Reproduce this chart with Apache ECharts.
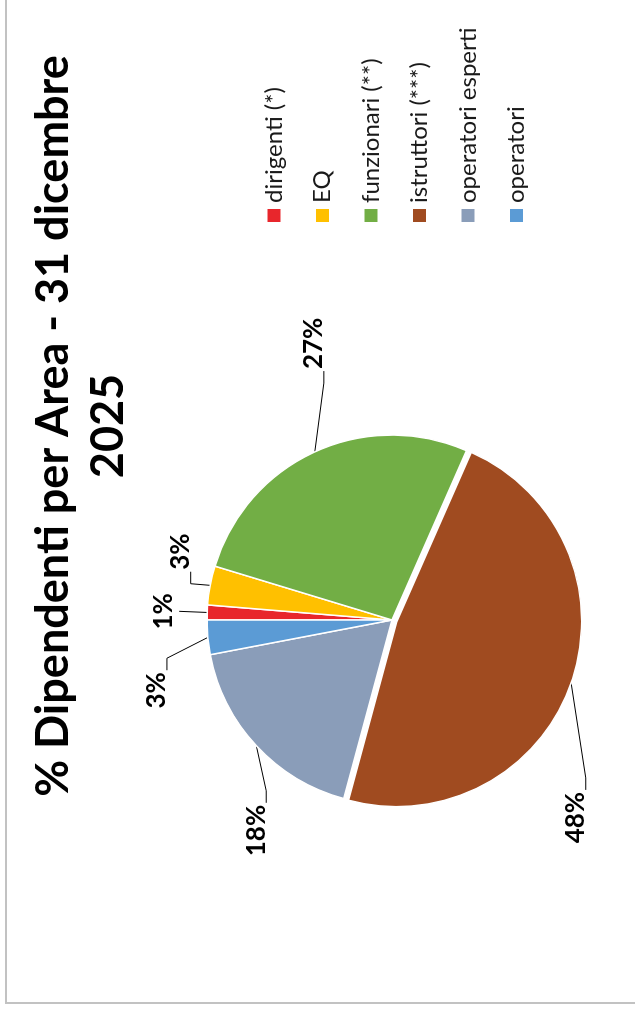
<!DOCTYPE html>
<html>
<head>
<meta charset="utf-8">
<script src="https://cdn.jsdelivr.net/npm/echarts@6/dist/echarts.min.js"></script>
<style>
  html, body { margin: 0; padding: 0; background: #fff; overflow: hidden; width: 635px; height: 1013px; }
  /* the chart is laid out landscape and turned a quarter left, as in the photo */
  #chart { position: absolute; left: 0; top: 1013px; width: 1174px; height: 650px;
           transform-origin: 0 0; transform: rotate(-90deg); }
</style>
</head>
<body>
<div id="chart"></div>
<script>
// categories and shares (%)
var aree = ['dirigenti (*)', 'EQ', 'funzionari (**)', 'istruttori (***)', 'operatori esperti', 'operatori'];
var quote = [1.3, 3.4, 26.9, 47.6, 17.8, 3.0];
var colori = ['#E8262C', '#FFC000', '#72AE45', '#A04B20', '#8A9DB9', '#5B9BD5'];

// leader line lengths per slice [first, second]
var leader = [[28, 0], [30, 5], [2, 76], [5, 102], [0, 54], [51, 25]];

var font = 'Lato, "Open Sans", sans-serif';

var dati = aree.map(function (nome, i) {
  return {
    name: nome,
    value: quote[i],
    selected: i === 3,
    itemStyle: { color: colori[i] },
    labelLine: { length: leader[i][0], length2: leader[i][1] }
  };
});

var chart = echarts.init(document.getElementById('chart'));

chart.setOption({
  animation: false,
  title: {
    text: '% Dipendenti per Area - 31 dicembre\n2025',
    left: 'center',
    top: 21,
    textStyle: { fontFamily: font, fontSize: 45, fontWeight: 'bold', color: '#000', lineHeight: 55 }
  },
  graphic: [{
    type: 'rect', z: -1, silent: true,
    shape: { x: 10, y: 6, width: 1300, height: 800 },
    style: { fill: 'none', stroke: '#c2c2c2', lineWidth: 2 }
  }],
  legend: {
    orient: 'vertical',
    left: 784,
    top: 257,
    icon: 'rect',
    itemWidth: 15,
    itemHeight: 15,
    itemGap: 24.5,
    selectedMode: false,
    data: aree,
    textStyle: { fontFamily: font, fontSize: 24, lineHeight: 24, color: '#1a1a1a' }
  },
  series: [{
    type: 'pie',
    center: [393, 392],
    radius: 185,
    startAngle: 90,
    clockwise: true,
    percentPrecision: 0,
    selectedMode: 'single',
    selectedOffset: 5,
    avoidLabelOverlap: false,
    itemStyle: { borderColor: '#fff', borderWidth: 1.5 },
    select: { itemStyle: { borderColor: '#fff', borderWidth: 1.5 } },
    emphasis: { disabled: true },
    label: {
      show: true,
      position: 'outside',
      formatter: '{d}%',
      fontFamily: font,
      fontSize: 26,
      fontWeight: 'bold',
      color: '#000'
    },
    labelLine: { show: true, lineStyle: { color: '#000', width: 1 } },
    labelLayout: function (p) {
      var pts = p.labelLinePoints;
      if (!pts) return {};
      var a = pts[0];
      if (p.dataIndex === 0) {
        // thin slice: label sits centred on top of its leader
        return {
          x: pts[1][0], y: pts[1][1] - 3, align: 'center', verticalAlign: 'bottom',
          labelLinePoints: [a, pts[1], pts[1]]
        };
      }
      var r = p.labelRect;
      var right = r.x > a[0];
      var cy = r.y + r.height * 0.88;
      var cx = right ? r.x - 2 : r.x + r.width + 2;
      return { labelLinePoints: [a, [cx + (right ? -12 : 12), cy], [cx, cy]] };
    },
    data: dati
  }]
});
</script>
</body>
</html>
